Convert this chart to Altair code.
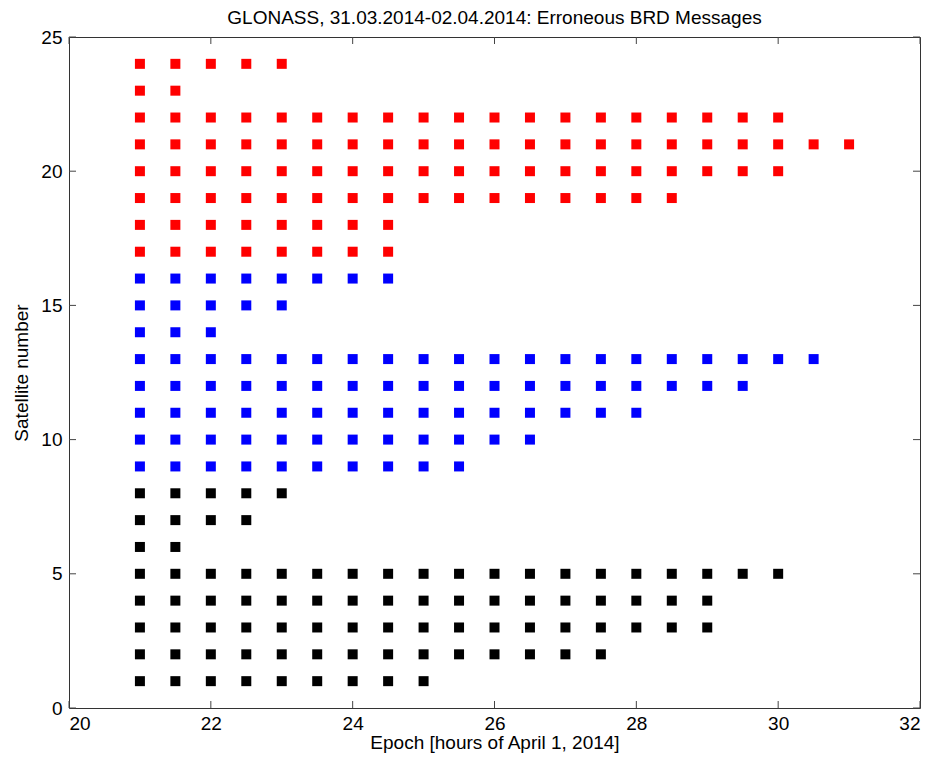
import altair as alt
import pandas as pd

# Candidate epochs (hours of April 1, 2014)
epochs = [21, 21.5, 22, 22.5, 23, 23.5, 24, 24.5, 25, 25.5, 26, 26.5,
          27, 27.5, 28, 28.5, 29, 29.5, 30, 30.5, 31]
# Satellite numbers and their orbital plane (colour group)
satellites = list(range(1, 25))
planes = ["Plane 1"] * 8 + ["Plane 2"] * 8 + ["Plane 3"] * 8
# Last epoch with an erroneous message for each satellite (1..24)
last_epoch = [25, 27.5, 29, 29, 30, 21.5, 22.5, 23,
              25.5, 26.5, 28, 29.5, 30.5, 22, 23, 24.5,
              24.5, 24.5, 28.5, 30, 31, 30, 21.5, 23]

x_ticks = [20, 22, 24, 26, 28, 30, 32]
y_ticks = [0, 5, 10, 15, 20, 25]

rows = []
for s, p, last in zip(satellites, planes, last_epoch):
    for e in epochs:
        if e <= last:
            rows.append({"epoch": e, "sat": s, "plane": p})
df = pd.DataFrame(rows)

W, H = 851, 671
FONT = "Liberation Sans"
FS = 19

xscale = alt.Scale(domain=[20, 32], nice=False, zero=False)
yscale = alt.Scale(domain=[0, 25], nice=False, zero=True)

x_axis = alt.Axis(values=x_ticks, format="d", title="Epoch [hours of April 1, 2014]",
                  grid=False, ticks=False, domain=False, labelPadding=6,
                  titleBaseline="alphabetic", titleY=40,
                  labelFont=FONT, titleFont=FONT, labelFontSize=FS, titleFontSize=FS,
                  labelColor="black", titleColor="black", titleFontWeight="normal")
y_axis = alt.Axis(values=y_ticks, format="d", title="Satellite number",
                  grid=False, ticks=False, domain=False, labelPadding=7,
                  titleBaseline="alphabetic", titleX=-42,
                  labelFont=FONT, titleFont=FONT, labelFontSize=FS, titleFontSize=FS,
                  labelColor="black", titleColor="black", titleFontWeight="normal")

points = alt.Chart(df).mark_point(shape="square", filled=True, size=100, opacity=1).encode(
    x=alt.X("epoch:Q", scale=xscale, axis=x_axis),
    y=alt.Y("sat:Q", scale=yscale, axis=y_axis),
    color=alt.Color("plane:N", scale=alt.Scale(domain=["Plane 1", "Plane 2", "Plane 3"],
                                               range=["#000000", "#0000ff", "#ff0000"]),
                    legend=None),
)

xt = pd.DataFrame({"v": x_ticks})
yt = pd.DataFrame({"v": y_ticks})
tick_color = "#444444"
xb = alt.Chart(xt).mark_rule(color=tick_color).encode(
    x=alt.X("v:Q", scale=xscale, axis=x_axis), y=alt.value(H), y2=alt.value(H - 7))
xtop = alt.Chart(xt).mark_rule(color=tick_color).encode(
    x=alt.X("v:Q", scale=xscale, axis=x_axis), y=alt.value(0), y2=alt.value(7))
yl = alt.Chart(yt).mark_rule(color=tick_color).encode(
    y=alt.Y("v:Q", scale=yscale, axis=y_axis), x=alt.value(0), x2=alt.value(7))
yr = alt.Chart(yt).mark_rule(color=tick_color).encode(
    y=alt.Y("v:Q", scale=yscale, axis=y_axis), x=alt.value(W), x2=alt.value(W - 7))

chart = alt.layer(points, xb, xtop, yl, yr).properties(
    width=W, height=H,
    background="white",
    title=alt.TitleParams("GLONASS, 31.03.2014-02.04.2014: Erroneous BRD Messages",
                          fontSize=FS, font=FONT, fontWeight="normal", color="black",
                          offset=0, anchor="middle"),
    autosize=alt.AutoSizeParams(type="none"),
    padding={"left": 61, "top": 29, "right": 4, "bottom": 45},
).configure_view(
    stroke="#333333", strokeWidth=1
)

chart.save("out.html", embed_options={"renderer": "svg", "actions": False})
